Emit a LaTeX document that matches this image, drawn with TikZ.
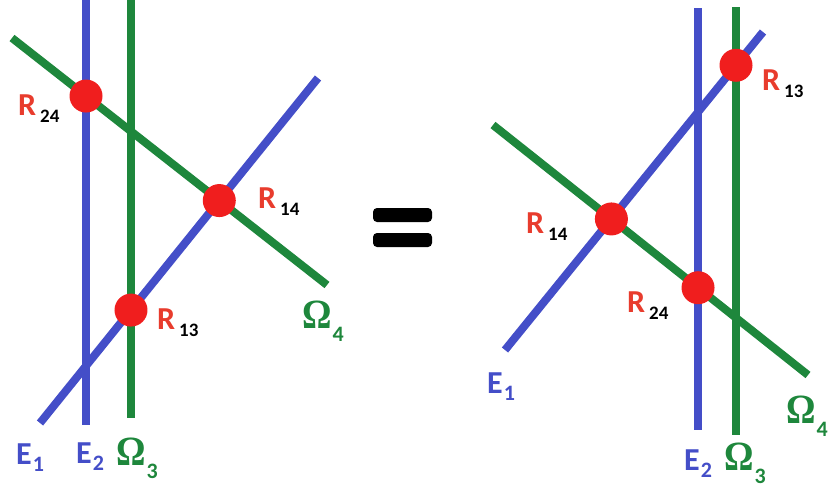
\documentclass[tikz,border=0pt]{standalone}
\usepackage{fontspec}
\setmainfont{Carlito}
\newfontfamily\omgfont{Liberation Serif}
\usepackage{xcolor}
\usepackage{graphicx}
\usepackage{tikz}
\usetikzlibrary{positioning}

\definecolor{lblue}{RGB}{68,78,200}
\definecolor{lgreen}{RGB}{30,135,60}
\definecolor{dotred}{RGB}{240,30,30}
\definecolor{rtext}{RGB}{232,60,45}

\newcommand{\rname}[1]{R\hspace{4pt}\raisebox{-7pt}{\fontsize{19}{19}\selectfont\color{black}#1}}
\newcommand{\ename}[1]{E\hspace{1pt}\raisebox{-7pt}{\fontsize{22}{22}\selectfont #1}}
\newcommand{\wname}[1]{\scalebox{1.15}[1.3]{\omgfont Ω}\hspace{1pt}\raisebox{-13pt}{\fontsize{22}{22}\selectfont #1}}

\begin{document}
\begin{tikzpicture}[
  x=1pt, y=-1pt,
  font=\fontsize{32}{32}\selectfont\bfseries,
  eline/.style={draw=lblue, line width=8pt},
  wline/.style={draw=lgreen, line width=8pt},
  dot/.style={circle, fill=dotred, minimum size=33pt, inner sep=0pt},
  rlab/.style={text=rtext, anchor=base west, inner sep=0pt},
  elab/.style={text=lblue, anchor=base west, inner sep=0pt},
  wlab/.style={text=lgreen, anchor=base west, inner sep=0pt}
]
  \useasboundingbox (0,0) rectangle (828,488);

  % left side
  \coordinate (le1a) at (40,423);  \coordinate (le1b) at (318,78);
  \coordinate (le2a) at (86,0);    \coordinate (le2b) at (86,425);
  \coordinate (lw3a) at (131,0);   \coordinate (lw3b) at (131,418);
  \coordinate (lw4a) at (12,38);   \coordinate (lw4b) at (327,285);

  \draw[eline] (le2a) -- (le2b);
  \draw[wline] (lw3a) -- (lw3b);
  \draw[wline] (lw4a) -- (lw4b);
  \draw[eline] (le1a) -- (le1b);

  \node[dot] (lr24) at (intersection of le2a--le2b and lw4a--lw4b) {};
  \node[dot] (lr14) at (intersection of le1a--le1b and lw4a--lw4b) {};
  \node[dot] (lr13) at (intersection of le1a--le1b and lw3a--lw3b) {};

  \node[rlab] (lr24t) at (18,115) {\rname{24}};
  \node[rlab] (lr14t) at (258,208) {\rname{14}};
  \node[rlab] (lr13t) at (157,329) {\rname{13}};
  \node[elab] (le1t) at (16,464) {\ename{1}};
  \node[elab] (le2t) at (76,463) {\ename{2}};
  \node[wlab] (lw3t) at (116,465) {\wname{3}};
  \node[wlab] (lw4t) at (302,328) {\wname{4}};

  % equals sign
  \fill[rounded corners=4pt] (373,208) rectangle (432,222);
  \fill[rounded corners=4pt] (373,233) rectangle (432,247);

  % right side
  \coordinate (re1a) at (505,350); \coordinate (re1b) at (763,32);
  \coordinate (re2a) at (698,8);   \coordinate (re2b) at (698,430);
  \coordinate (rw3a) at (736,7);   \coordinate (rw3b) at (736,435);
  \coordinate (rw4a) at (493,125); \coordinate (rw4b) at (808,375);

  \draw[eline] (re2a) -- (re2b);
  \draw[wline] (rw3a) -- (rw3b);
  \draw[wline] (rw4a) -- (rw4b);
  \draw[eline] (re1a) -- (re1b);

  \node[dot] (rr13) at (intersection of re1a--re1b and rw3a--rw3b) {};
  \node[dot] (rr14) at (intersection of re1a--re1b and rw4a--rw4b) {};
  \node[dot] (rr24) at (intersection of re2a--re2b and rw4a--rw4b) {};

  \node[rlab] (rr13t) at (762,90) {\rname{13}};
  \node[rlab] (rr14t) at (526,233) {\rname{14}};
  \node[rlab] (rr24t) at (627,312) {\rname{24}};
  \node[elab] (re1t) at (487,393) {\ename{1}};
  \node[elab] (re2t) at (684,470) {\ename{2}};
  \node[wlab] (rw3t) at (724,470) {\wname{3}};
  \node[wlab] (rw4t) at (786,423) {\wname{4}};
\end{tikzpicture}
\end{document}
